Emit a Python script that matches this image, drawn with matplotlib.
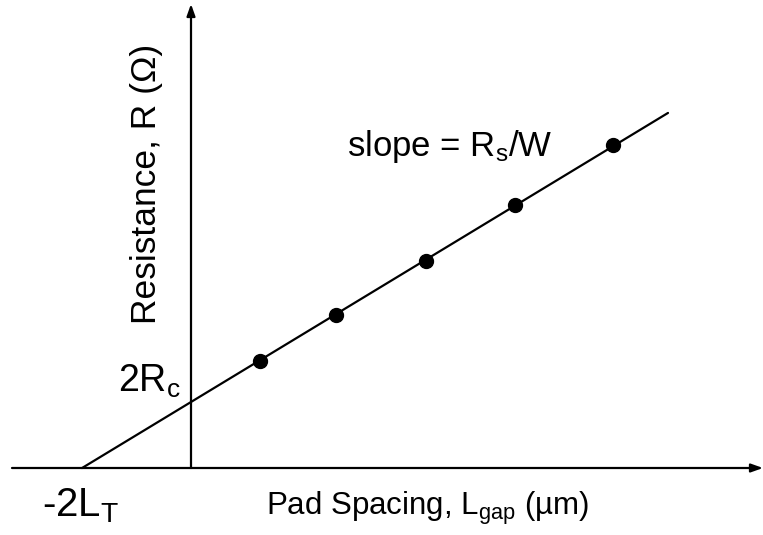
#!/usr/bin/env python3
"""Transfer length method plot: resistance vs pad spacing with extrapolation."""
import numpy as np
import matplotlib.pyplot as plt

plt.rcParams['font.family'] = ['Liberation Sans', 'DejaVu Sans']
plt.rcParams['mathtext.fontset'] = 'custom'
plt.rcParams['mathtext.rm'] = 'Liberation Sans'
plt.rcParams['mathtext.it'] = 'Liberation Sans'

# measured points (arbitrary units)
gap = [3.45, 7.25, 11.75, 16.2, 21.1]
resistance = [5.35, 7.65, 10.35, 13.15, 16.15]

# fitted line: R = 2Rc + (Rs/W) * Lgap
two_rc = 3.3
slope = 0.606
fit_x = [-5.45, 23.85]

fig = plt.figure(figsize=(7.63, 5.35), dpi=100)
ax = fig.add_axes([0, 0, 1, 1])
ax.set_xlim(-9.55, 28.6)
ax.set_ylim(-3.35, 23.4)
ax.axis('off')

# axes with arrows
arrow = dict(arrowstyle='-|>,head_length=0.7,head_width=0.25', color='black',
             lw=1.6, shrinkA=0, shrinkB=0)
ax.annotate('', xy=(28.6, 0), xytext=(-8.95, 0), arrowprops=arrow)
ax.annotate('', xy=(0, 23.2), xytext=(0, 0), arrowprops=arrow)

fx = np.array(fit_x)
ax.plot(fx, two_rc + slope * fx, color='black', lw=1.6, solid_capstyle='round')
ax.plot(gap, resistance, 'o', color='black', markersize=10)

ax.text(-2.2, 14.2, 'Resistance, R (Ω)', rotation=90, ha='center', va='center',
        fontsize=25.5)
ax.text(-3.65, 3.8, r'2R$_{\mathrm{c}}$', fontsize=27, ha='left', va='baseline')
ax.text(-7.45, -2.4, r'-2L$_{\mathrm{T}}$', fontsize=29, ha='left',
        va='baseline')
ax.text(11.85, -2.35, r'Pad Spacing, L$_{\mathrm{gap}}$ (µm)', fontsize=22.5,
        ha='center', va='baseline')
ax.text(7.8, 15.6, r'slope = R$_{\mathrm{s}}$/W', fontsize=25,
        ha='left', va='baseline')

fig.savefig('out.png', dpi=100)
